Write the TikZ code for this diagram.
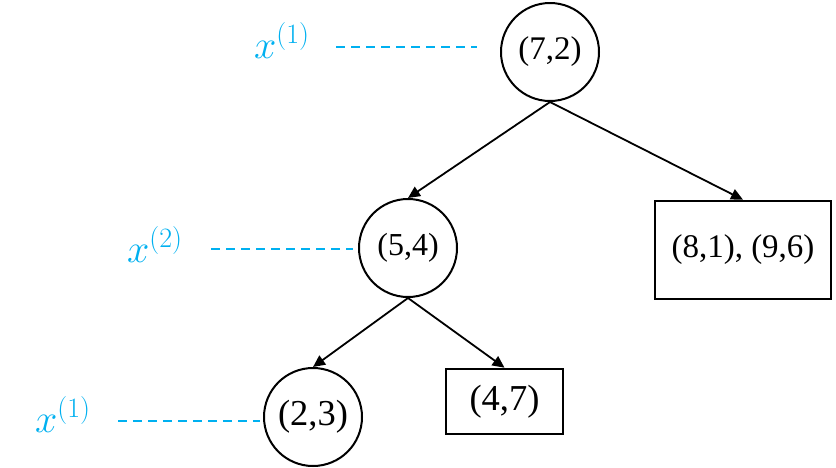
\RequirePackage{fix-cm}
\documentclass[tikz,border=0pt]{standalone}
\usepackage{fontspec}
\setmainfont{Liberation Serif}
\usetikzlibrary{arrows.meta}
\definecolor{lblcyan}{RGB}{0,176,240}
\begin{document}
\begin{tikzpicture}[x=1pt,y=-1pt,
  treecircle/.style={draw, circle, line width=2pt, minimum size=98pt, inner sep=0pt},
  leafbox/.style={draw, rectangle, line width=2.6pt, inner sep=0pt},
  edge/.style={line width=1.8pt, -{Triangle[length=12pt,width=11pt]}},
  guide/.style={lblcyan, line width=1.4pt, dash pattern=on 9pt off 6pt},
  lbl/.style={text=lblcyan, anchor=base west, inner sep=0pt, font=\fontsize{40}{44}\selectfont}
]
\useasboundingbox (0,0) rectangle (836,467);
% tree nodes
\node[treecircle, font=\fontsize{33}{36}\selectfont] (n72) at (550,52) {(7,2)};
\node[treecircle, font=\fontsize{32}{36}\selectfont] (n54) at (408,248) {(5,4)};
\node[treecircle, font=\fontsize{36.5}{40}\selectfont] (n23) at (313,417) {(2,3)};
\node[leafbox, minimum width=176pt, minimum height=98pt, font=\fontsize{33}{36}\selectfont] (n81) at (743,250) {(8,1), (9,6)};
\node[leafbox, minimum width=117pt, minimum height=65pt, font=\fontsize{36.5}{40}\selectfont] (n47) at (504.5,401.5) {(4,7)};
% edges
\draw[edge] (n72.south) -- (n54.north);
\draw[edge] (n72.south) -- (n81.north);
\draw[edge] (n54.south) -- (n23.north);
\draw[edge] (n54.south) -- (n47.north);
% level labels
\node[lbl] (l1) at (254,58) {$x^{(1)}$};
\node[lbl] (l2) at (127,262) {$x^{(2)}$};
\node[lbl] (l3) at (35,432) {$x^{(1)}$};
\coordinate (g1a) at (336,47);
\coordinate (g1b) at (477,47);
\coordinate (g2a) at (211,249);
\coordinate (g2b) at (353,249);
\coordinate (g3a) at (118,421);
\coordinate (g3b) at (260,421);
\draw[guide] (g1a) -- (g1b);
\draw[guide] (g2a) -- (g2b);
\draw[guide] (g3a) -- (g3b);
\end{tikzpicture}
\end{document}
